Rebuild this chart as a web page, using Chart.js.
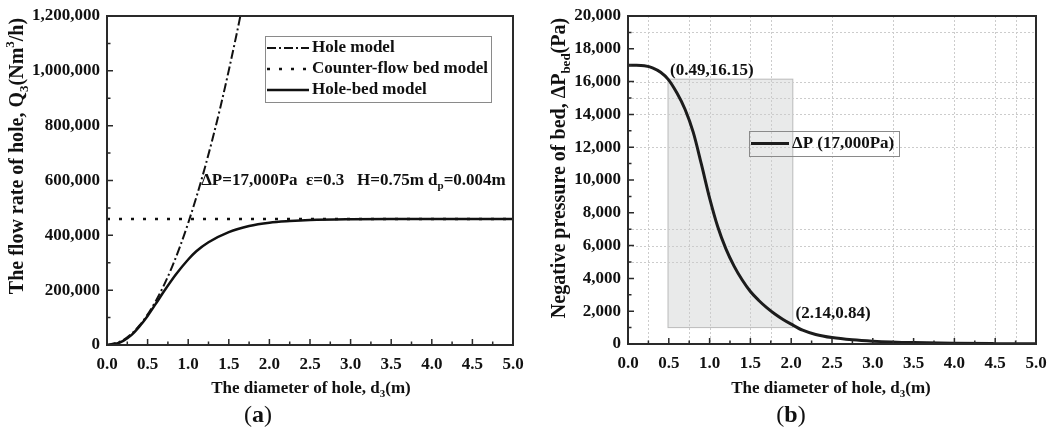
<!DOCTYPE html>
<html>
<head>
<meta charset="utf-8">
<script src="https://cdn.jsdelivr.net/npm/chart.js@4.4.1/dist/chart.umd.min.js"></script>
<style>
html, body { margin: 0; padding: 0; background: #fff; }
#wrap { position: relative; width: 1056px; height: 432px; overflow: hidden; }
canvas { position: absolute; top: 0; }
#left { left: 0; }
#right { left: 540px; }
</style>
</head>
<body>
<div id="wrap">
  <canvas id="left" width="540" height="432"></canvas>
  <canvas id="right" width="516" height="432"></canvas>
</div>
<script>
// (a) flow rate of the hole against hole diameter
var holeD = [0, 0.2, 0.4, 0.6, 0.8, 1.0, 1.2, 1.4, 1.6, 1.7];
var holeQ = [0, 17800, 71200, 160000, 284000, 445000, 641000, 872000, 1139000, 1286000];
var bedD = [0, 5];
var bedQ = [460000, 460000];
var mixD = [0, 0.1, 0.2, 0.3, 0.4, 0.5, 0.6, 0.7, 0.85, 1.0, 1.1, 1.25, 1.5, 1.75, 2.0, 2.25, 2.5, 3.0, 3.5, 4.0, 5.0];
var mixQ = [0, 3500, 15000, 36000, 68000, 106000, 150000, 195000, 258000, 312000, 342000, 375000, 412000, 434000, 446000, 452000, 456000, 459000, 460000, 460000, 460000];

// (b) negative pressure of the bed against hole diameter
var dropD = [0, 0.1, 0.2, 0.3, 0.4, 0.49, 0.6, 0.7, 0.8, 0.9, 1.0, 1.1, 1.2, 1.3, 1.4, 1.5, 1.6, 1.7, 1.8, 1.9, 2.0, 2.14, 2.3, 2.5, 2.75, 3.0, 3.5, 4.0, 4.5, 5.0];
var dropP = [17000, 16995, 16960, 16840, 16570, 16150, 15300, 14300, 12900, 10950, 8900, 7150, 5800, 4750, 3900, 3200, 2670, 2220, 1830, 1500, 1210, 840, 580, 390, 255, 175, 85, 42, 22, 12];
var gridXs = [0.25, 0.75, 1.0, 1.5, 1.75, 2.5, 3.25, 4.0, 4.5, 4.75];
var gridYs = [5000, 6000, 7000, 12000, 14000, 15000, 16000, 19000];
var shadeX = [0.49, 2.02];
var shadeY = [1000, 16150];

var SERIF = '"Liberation Serif", "Times New Roman", serif';
var tickFont = { family: SERIF, weight: 'bold', size: 17 };

function pts(xs, ys) {
  return xs.map(function (x, i) { return { x: x, y: ys[i] }; });
}

// text with sub/superscript pieces, centred or left aligned, optionally rotated
function richWidth(ctx, parts, size) {
  var w = 0;
  parts.forEach(function (p) {
    ctx.font = (p.n ? '' : 'bold ') + (p.s ? Math.round(size * 0.65) : size) + 'px ' + SERIF;
    w += ctx.measureText(p.t).width;
  });
  return w;
}
function drawRich(ctx, parts, x, y, size, opt) {
  opt = opt || {};
  ctx.save();
  ctx.translate(x, y);
  if (opt.rot) ctx.rotate(opt.rot);
  var w = richWidth(ctx, parts, size);
  var cx = opt.left ? 0 : -w / 2;
  ctx.fillStyle = '#111';
  ctx.textBaseline = 'middle';
  ctx.textAlign = 'left';
  parts.forEach(function (p) {
    var sz = p.s ? Math.round(size * 0.65) : size;
    var dy = p.s === 'sub' ? size * 0.32 : (p.s === 'sup' ? -size * 0.36 : 0);
    ctx.font = (p.n ? '' : 'bold ') + sz + 'px ' + SERIF;
    ctx.fillText(p.t, cx, dy);
    cx += ctx.measureText(p.t).width;
  });
  ctx.restore();
}

var decor = {
  id: 'decor',
  beforeDatasetsDraw: function (chart, args, o) {
    var ctx = chart.ctx, xs = chart.scales.x, ys = chart.scales.y, a = chart.chartArea;
    ctx.save();
    if (o.shade) {
      var x0 = xs.getPixelForValue(o.shade.x[0]), x1 = xs.getPixelForValue(o.shade.x[1]);
      var y0 = ys.getPixelForValue(o.shade.y[1]), y1 = ys.getPixelForValue(o.shade.y[0]);
      ctx.fillStyle = 'rgba(200,203,203,0.4)';
      ctx.fillRect(x0, y0, x1 - x0, y1 - y0);
      ctx.strokeStyle = 'rgba(150,150,150,0.6)';
      ctx.lineWidth = 1;
      ctx.strokeRect(x0, y0, x1 - x0, y1 - y0);
    }
    if (o.gridX) {
      ctx.strokeStyle = '#cccccc';
      ctx.lineWidth = 1;
      ctx.setLineDash([2, 2]);
      ctx.beginPath();
      o.gridX.forEach(function (v) {
        var px = Math.round(xs.getPixelForValue(v)) + 0.5;
        ctx.moveTo(px, a.top); ctx.lineTo(px, a.bottom);
      });
      o.gridY.forEach(function (v) {
        var py = Math.round(ys.getPixelForValue(v)) + 0.5;
        ctx.moveTo(a.left, py); ctx.lineTo(a.right, py);
      });
      ctx.stroke();
    }
    ctx.restore();
  },
  afterDatasetsDraw: function (chart, args, o) {
    var ctx = chart.ctx, xs = chart.scales.x, ys = chart.scales.y, a = chart.chartArea;
    ctx.save();
    // frame
    ctx.strokeStyle = '#2a2a2a';
    ctx.lineWidth = 2;
    ctx.strokeRect(a.left, a.top, a.right - a.left, a.bottom - a.top);
    // inward ticks, minor ones halfway between majors
    ctx.lineWidth = 1.5;
    ctx.beginPath();
    var xt = xs.ticks.map(function (t) { return t.value; });
    xt.forEach(function (v, i) {
      var px = xs.getPixelForValue(v);
      ctx.moveTo(px, a.bottom); ctx.lineTo(px, a.bottom - 6);
      if (i < xt.length - 1) {
        var pm = xs.getPixelForValue((v + xt[i + 1]) / 2);
        ctx.moveTo(pm, a.bottom); ctx.lineTo(pm, a.bottom - 3.5);
      }
    });
    var yt = ys.ticks.map(function (t) { return t.value; });
    yt.forEach(function (v, i) {
      var py = ys.getPixelForValue(v);
      ctx.moveTo(a.left, py); ctx.lineTo(a.left + 6, py);
      if (i < yt.length - 1) {
        var pm = ys.getPixelForValue((v + yt[i + 1]) / 2);
        ctx.moveTo(a.left, pm); ctx.lineTo(a.left + 3.5, pm);
      }
    });
    ctx.stroke();

    // legend box
    var L = o.legend;
    if (L) {
      ctx.strokeStyle = '#8a8a8a';
      ctx.lineWidth = 1;
      if (L.fill) { ctx.fillStyle = L.fill; ctx.fillRect(L.x, L.y, L.w, L.h); }
      ctx.strokeRect(L.x + 0.5, L.y + 0.5, L.w, L.h);
      chart.data.datasets.forEach(function (ds, i) {
        var y = L.y + L.first + i * L.gap;
        ctx.strokeStyle = ds.borderColor;
        ctx.lineWidth = ds.borderWidth;
        ctx.setLineDash(ds.borderDash || []);
        ctx.beginPath();
        ctx.moveTo(L.x + 2, y); ctx.lineTo(L.x + 2 + L.sample, y);
        ctx.stroke();
        ctx.setLineDash([]);
        drawRich(ctx, [{ t: ds.label }], L.x + L.sample + 5, y, 17, { left: true });
      });
    }

    // notes placed at data coordinates
    (o.notes || []).forEach(function (n) {
      var px = xs.getPixelForValue(n.x) + (n.dx || 0);
      var py = ys.getPixelForValue(n.y) + (n.dy || 0);
      drawRich(ctx, n.parts, px, py, 17, { left: true });
    });

    // axis titles and panel tag
    var T = o.titles;
    drawRich(ctx, T.x, T.xPos[0], T.xPos[1], 17);
    drawRich(ctx, T.y, T.yPos[0], T.yPos[1], 20, { rot: -Math.PI / 2 });
    drawRich(ctx, T.tag, T.tagPos[0], T.tagPos[1], 24);
    ctx.restore();
  }
};

function fitX(h) {
  return function (s) { s.height = h; s.paddingLeft = 0; s.paddingRight = 0; };
}
function fitY(w) {
  return function (s) { s.width = w; s.paddingTop = 0; s.paddingBottom = 0; };
}
function axis(min, max, step, fit, pad, fmt) {
  return {
    type: 'linear', min: min, max: max, afterFit: fit,
    grid: { display: false, drawTicks: false },
    border: { display: false },
    ticks: { stepSize: step, padding: pad, font: tickFont, color: '#111', callback: fmt }
  };
}
var fmtX = function (v) { return v.toFixed(1); };
var fmtY = function (v) { return v.toLocaleString('en-US'); };

new Chart(document.getElementById('left'), {
  type: 'line',
  data: {
    datasets: [
      { label: 'Hole model', data: pts(holeD, holeQ), borderColor: '#111', borderWidth: 2,
        borderDash: [9, 3, 2, 3], pointRadius: 0, cubicInterpolationMode: 'monotone' },
      { label: 'Counter-flow bed model', data: pts(bedD, bedQ), borderColor: '#111', borderWidth: 2.5,
        borderDash: [3, 9], pointRadius: 0 },
      { label: 'Hole-bed model', data: pts(mixD, mixQ), borderColor: '#111', borderWidth: 2.5,
        pointRadius: 0, cubicInterpolationMode: 'monotone' }
    ]
  },
  options: {
    responsive: false,
    animation: false,
    layout: { padding: { top: 16, right: 27, left: 0, bottom: 0 } },
    plugins: {
      legend: { display: false },
      tooltip: { enabled: false },
      decor: {
        legend: { x: 265, y: 36, w: 226, h: 66, first: 12, gap: 21, sample: 42, fill: '#fff' },
        notes: [
          { x: 1.16, y: 600000, parts: [{ t: 'ΔP=17,000Pa  ε=0.3   H=0.75m d' }, { t: 'p', s: 'sub' }, { t: '=0.004m' }] }
        ],
        titles: {
          x: [{ t: 'The diameter of hole, d' }, { t: '3', s: 'sub' }, { t: '(m)' }],
          xPos: [311, 389],
          y: [{ t: 'The flow rate of hole, Q' }, { t: '3', s: 'sub' }, { t: '(Nm' }, { t: '3', s: 'sup' }, { t: '/h)' }],
          yPos: [18, 156],
          tag: [{ t: '(', n: true }, { t: 'a' }, { t: ')', n: true }],
          tagPos: [258, 416]
        }
      }
    },
    scales: {
      x: axis(0, 5, 0.5, fitX(87), 9, fmtX),
      y: axis(0, 1200000, 200000, fitY(107), 7, fmtY)
    }
  },
  plugins: [decor]
});

new Chart(document.getElementById('right'), {
  type: 'line',
  data: {
    datasets: [
      { label: 'ΔP (17,000Pa)', data: pts(dropD, dropP), borderColor: '#1c1c1c', borderWidth: 3,
        pointRadius: 0, cubicInterpolationMode: 'monotone' }
    ]
  },
  options: {
    responsive: false,
    animation: false,
    layout: { padding: { top: 16, right: 20, left: 0, bottom: 0 } },
    plugins: {
      legend: { display: false },
      tooltip: { enabled: false },
      decor: {
        shade: { x: shadeX, y: shadeY },
        gridX: gridXs,
        gridY: gridYs,
        legend: { x: 209, y: 131, w: 150, h: 25, first: 12.5, gap: 0, sample: 38 },
        notes: [
          { x: 0.49, y: 16150, dx: 2, dy: -9, parts: [{ t: '(0.49,16.15)' }] },
          { x: 2.14, y: 840, dx: -7, dy: -17, parts: [{ t: '(2.14,0.84)' }] }
        ],
        titles: {
          x: [{ t: 'The diameter of hole, d' }, { t: '3', s: 'sub' }, { t: '(m)' }],
          xPos: [291, 389],
          y: [{ t: 'Negative pressure of bed, ΔP' }, { t: 'bed', s: 'sub' }, { t: '(Pa)' }],
          yPos: [20, 168],
          tag: [{ t: '(', n: true }, { t: 'b' }, { t: ')', n: true }],
          tagPos: [251, 416]
        }
      }
    },
    scales: {
      x: axis(0, 5, 0.5, fitX(88), 9, fmtX),
      y: axis(0, 20000, 2000, fitY(88), 7, fmtY)
    }
  },
  plugins: [decor]
});
</script>
</body>
</html>
